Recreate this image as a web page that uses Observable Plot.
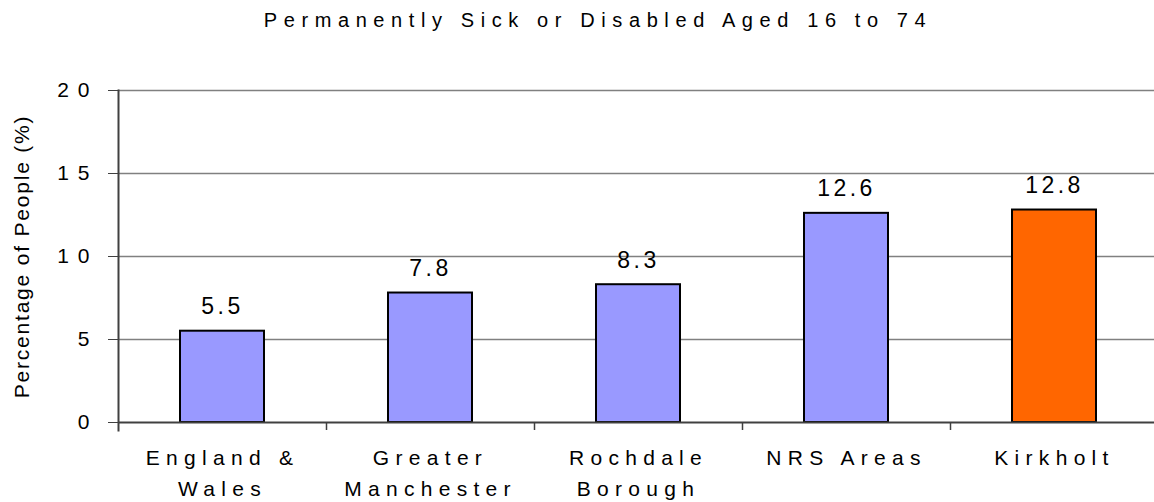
<!DOCTYPE html>
<html>
<head>
<meta charset="utf-8">
<script src="https://cdn.jsdelivr.net/npm/d3@7"></script>
<script src="https://cdn.jsdelivr.net/npm/@observablehq/plot@0.6"></script>
<style>
  body { margin: 0; background: #fff; font-family: "Liberation Sans", Arial, sans-serif; }
  #wrap { position: relative; width: 1154px; height: 502px; overflow: hidden; }
  #title { position: absolute; top: 8px; left: 598px; transform: translateX(-50%); white-space: nowrap;
           font-size: 20px; letter-spacing: 6.6px; color: #000; line-height: 24px; }
  #chart { position: absolute; top: 40px; left: 0; }
</style>
</head>
<body>
<div id="wrap">
  <div id="title">Permanently Sick or Disabled Aged 16 to 74</div>
  <div id="chart"></div>
</div>
<script>
const categories = ["England &\nWales", "Greater\nManchester", "Rochdale\nBorough", "NRS Areas", "Kirkholt"];
const values = [5.5, 7.8, 8.3, 12.6, 12.8];
const barColors = ["#9999FF", "#9999FF", "#9999FF", "#9999FF", "#FF6600"];
const yTicks = [0, 5, 10, 15, 20];
const yLabel = "Percentage of People (%)";

const data = categories.map((c, i) => ({cat: c, value: values[i], color: barColors[i]}));
const xRange = [118, 1158];
const band = (xRange[1] - xRange[0]) / categories.length;
const barW = 84;

const plot = Plot.plot({
  width: 1154,
  height: 462,
  marginLeft: 118,
  marginRight: 0,
  marginTop: 50,
  marginBottom: 80,
  style: {fontFamily: "'Liberation Sans', Arial, sans-serif", color: "#000", background: "#fff"},
  x: {domain: categories, range: xRange, padding: 0},
  y: {domain: [0, 20]},
  color: {type: "identity"},
  marks: [
    Plot.ruleY(yTicks.filter(d => d !== 0), {stroke: "#808080", strokeWidth: 1.5}),
    Plot.barY(data, {x: "cat", y: "value", fill: "color", stroke: "#000", strokeWidth: 2,
      insetLeft: (band - barW) / 2, insetRight: (band - barW) / 2}),
    Plot.ruleY([0], {stroke: "#404040", strokeWidth: 2}),
    Plot.frame({anchor: "left", stroke: "#404040", strokeWidth: 2, insetBottom: -8}),
    Plot.ruleX(categories.slice(1), {x: d => d, dx: -band / 2, y1: 0, y2: 0, insetBottom: -8, stroke: "#404040", strokeWidth: 1.5}),
    Plot.axisY(yTicks, {tickSize: 10, tickPadding: 10, fontSize: 21, stroke: "#404040", label: null}),
    Plot.axisX({tickSize: 0, tickPadding: 21, fontSize: 21, lineHeight: 1.45, label: null}),
    Plot.text(data, {x: "cat", y: "value", text: d => d.value.toFixed(1), dy: -17, lineAnchor: "bottom", fontSize: 23, fill: "#000"}),
    Plot.text([yLabel], {text: d => d, frameAnchor: "left", textAnchor: "middle", rotate: -90, dx: -96, fontSize: 21, fill: "#000"})
  ]
});
document.getElementById("chart").appendChild(plot);
const svg = d3.select(plot);
svg.selectAll('g[aria-label="y-axis tick label"] text').style("letter-spacing", "9px");
svg.selectAll('g[aria-label="x-axis tick label"] text').style("letter-spacing", "6.3px");
svg.selectAll('g[aria-label="text"] text').each(function() {
  d3.select(this).style("letter-spacing", this.textContent === yLabel ? "1.8px" : "3.5px");
});
</script>
</body>
</html>
